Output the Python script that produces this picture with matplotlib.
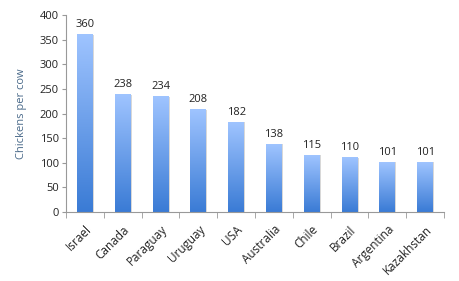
import numpy as np
import matplotlib
matplotlib.use("Agg")
import matplotlib.pyplot as plt
from matplotlib.colors import LinearSegmentedColormap

countries = ["Israel", "Canada", "Paraguay", "Uruguay", "USA", "Australia",
             "Chile", "Brazil", "Argentina", "Kazakhstan"]
chickens_per_cow = [360, 238, 234, 208, 182, 138, 115, 110, 101, 101]

plt.rcParams["font.family"] = ["Open Sans", "DejaVu Sans"]

fig = plt.figure(figsize=(4.6, 2.81), dpi=100)
ax = fig.add_axes([66 / 460, 1 - 212 / 281, 378 / 460, 197 / 281])

x = np.arange(len(countries))
bars = ax.bar(x, chickens_per_cow, width=0.42, color="none", edgecolor="none")

cmap = LinearSegmentedColormap.from_list("grad", ["#3a7bd5", "#9fc4ff"])
grad = np.linspace(0, 1, 256).reshape(-1, 1)
for b in bars:
    x0, w, h = b.get_x(), b.get_width(), b.get_height()
    # faint shadow on the right side
    ax.bar(x0 + w / 2 + 0.03, h, width=w, bottom=0, color="#d8d8d8", zorder=1)
    ax.imshow(grad, cmap=cmap, origin="lower", aspect="auto",
              extent=(x0, x0 + w, 0, h), zorder=2)

for xi, v in zip(x, chickens_per_cow):
    ax.text(xi, v + 9, str(v), ha="center", va="bottom", fontsize=8, color="#222222")

ax.set_xlim(-0.5, len(countries) - 0.5)
ax.set_ylim(0, 400)
ax.set_yticks(range(0, 401, 50))
ax.tick_params(axis="y", labelsize=8, length=3, color="#999999", labelcolor="#222222", pad=2)
ax.set_xticks(x)
ax.set_xticklabels(countries, rotation=45, ha="right", rotation_mode="anchor", fontsize=8.5,
                   color="#222222")
ax.tick_params(axis="x", length=0, pad=8)
ax.set_xticks(np.arange(-0.5, len(countries), 1), minor=True)
ax.tick_params(axis="x", which="minor", length=4, color="#999999")
ax.set_ylabel("Chickens per cow", fontsize=8, color="#4a6a8a", labelpad=9)

for s in ["top", "right"]:
    ax.spines[s].set_visible(False)
for s in ["left", "bottom"]:
    ax.spines[s].set_color("#999999")
    ax.spines[s].set_linewidth(0.8)

fig.savefig("out.png", dpi=100)
